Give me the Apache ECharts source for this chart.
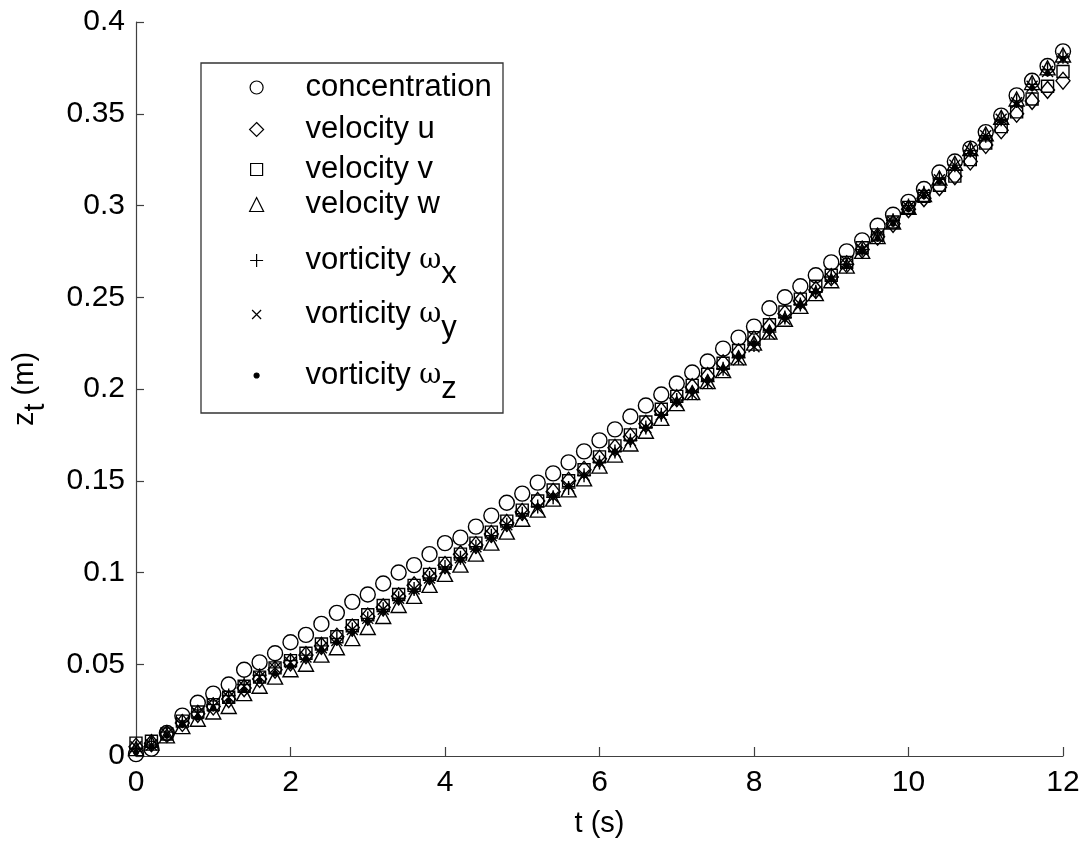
<!DOCTYPE html>
<html>
<head>
<meta charset="utf-8">
<script src="https://cdn.jsdelivr.net/npm/echarts@6/dist/echarts.min.js"></script>
<style>
html, body { margin: 0; padding: 0; background: #fff; }
#main { width: 1086px; height: 844px; }
</style>
</head>
<body>
<div id="main"></div>
<script>
// time (s)
var times = [
    0, 0.2, 0.4, 0.6, 0.8, 1, 1.2, 1.4, 1.6, 1.8,
    2, 2.2, 2.4, 2.6, 2.8, 3, 3.2, 3.4, 3.6, 3.8,
    4, 4.2, 4.4, 4.6, 4.8, 5, 5.2, 5.4, 5.6, 5.8,
    6, 6.2, 6.4, 6.6, 6.8, 7, 7.2, 7.4, 7.6, 7.8,
    8, 8.2, 8.4, 8.6, 8.8, 9, 9.2, 9.4, 9.6, 9.8,
    10, 10.2, 10.4, 10.6, 10.8, 11, 11.2, 11.4, 11.6, 11.8,
    12
];
// z_t (m) per quantity
var concentration = [
    0.001, 0.004, 0.0125, 0.022, 0.029, 0.034, 0.039, 0.047, 0.051, 0.056,
    0.062, 0.066, 0.072, 0.078, 0.084, 0.088, 0.094, 0.100, 0.104, 0.110,
    0.116, 0.119, 0.125, 0.131, 0.138, 0.143, 0.149, 0.154, 0.160, 0.166,
    0.172, 0.178, 0.185, 0.191, 0.197, 0.203, 0.209, 0.215, 0.222, 0.228,
    0.234, 0.244, 0.250, 0.256, 0.262, 0.269, 0.275, 0.281, 0.289, 0.295,
    0.302, 0.309, 0.318, 0.324, 0.331, 0.340, 0.349, 0.360, 0.368, 0.376,
    0.384
];
var velocityU = [
    0.005, 0.007, 0.012, 0.018, 0.023, 0.027, 0.031, 0.037, 0.042, 0.047,
    0.051, 0.055, 0.060, 0.065, 0.070, 0.076, 0.081, 0.087, 0.093, 0.098,
    0.104, 0.110, 0.115, 0.121, 0.127, 0.133, 0.139, 0.144, 0.150, 0.156,
    0.162, 0.168, 0.174, 0.181, 0.188, 0.195, 0.201, 0.207, 0.214, 0.220,
    0.227, 0.234, 0.241, 0.248, 0.254, 0.261, 0.268, 0.276, 0.283, 0.290,
    0.298, 0.304, 0.310, 0.316, 0.324, 0.333, 0.341, 0.350, 0.357, 0.363,
    0.368
];
var velocityV = [
    0.007, 0.008, 0.012, 0.019, 0.024, 0.028, 0.032, 0.038, 0.043, 0.048,
    0.052, 0.056, 0.061, 0.065, 0.071, 0.077, 0.082, 0.088, 0.093, 0.099,
    0.105, 0.110, 0.116, 0.122, 0.128, 0.134, 0.139, 0.145, 0.150, 0.156,
    0.163, 0.169, 0.175, 0.182, 0.189, 0.196, 0.202, 0.208, 0.214, 0.221,
    0.228, 0.235, 0.242, 0.249, 0.256, 0.262, 0.269, 0.277, 0.284, 0.291,
    0.299, 0.305, 0.311, 0.316, 0.325, 0.334, 0.343, 0.351, 0.358, 0.365,
    0.373
];
var velocityW = [
    0.004, 0.007, 0.011, 0.016, 0.020, 0.024, 0.027, 0.034, 0.038, 0.043,
    0.047, 0.050, 0.055, 0.059, 0.064, 0.070, 0.076, 0.082, 0.087, 0.093,
    0.099, 0.104, 0.110, 0.116, 0.122, 0.129, 0.134, 0.140, 0.145, 0.151,
    0.158, 0.164, 0.170, 0.177, 0.184, 0.192, 0.198, 0.204, 0.210, 0.217,
    0.225, 0.231, 0.238, 0.245, 0.252, 0.259, 0.267, 0.275, 0.283, 0.291,
    0.299, 0.306, 0.315, 0.323, 0.331, 0.339, 0.348, 0.358, 0.367, 0.375,
    0.382
];
var vorticityX = [
    0.004, 0.006, 0.013, 0.019, 0.024, 0.028, 0.033, 0.039, 0.044, 0.048,
    0.052, 0.055, 0.060, 0.064, 0.069, 0.075, 0.080, 0.086, 0.091, 0.097,
    0.103, 0.108, 0.114, 0.120, 0.126, 0.132, 0.136, 0.141, 0.146, 0.153,
    0.160, 0.166, 0.172, 0.179, 0.186, 0.194, 0.198, 0.204, 0.211, 0.217,
    0.224, 0.231, 0.239, 0.246, 0.253, 0.261, 0.268, 0.276, 0.284, 0.292,
    0.300, 0.307, 0.315, 0.322, 0.330, 0.338, 0.347, 0.357, 0.366, 0.374,
    0.381
];
var vorticityY = [
    0.005, 0.006, 0.012, 0.018, 0.023, 0.027, 0.032, 0.038, 0.043, 0.048,
    0.051, 0.054, 0.059, 0.063, 0.069, 0.075, 0.080, 0.086, 0.091, 0.097,
    0.102, 0.108, 0.114, 0.120, 0.126, 0.131, 0.135, 0.141, 0.147, 0.153,
    0.160, 0.166, 0.172, 0.179, 0.186, 0.193, 0.197, 0.203, 0.210, 0.216,
    0.223, 0.230, 0.238, 0.246, 0.253, 0.260, 0.268, 0.276, 0.283, 0.291,
    0.299, 0.306, 0.314, 0.322, 0.330, 0.338, 0.347, 0.356, 0.365, 0.373,
    0.380
];
var vorticityZ = [
    0.002, 0.005, 0.011, 0.017, 0.021, 0.026, 0.030, 0.036, 0.041, 0.045,
    0.049, 0.053, 0.058, 0.062, 0.068, 0.074, 0.079, 0.085, 0.090, 0.096,
    0.102, 0.107, 0.113, 0.119, 0.125, 0.131, 0.136, 0.142, 0.147, 0.153,
    0.160, 0.166, 0.172, 0.179, 0.186, 0.193, 0.199, 0.205, 0.211, 0.218,
    0.225, 0.232, 0.239, 0.246, 0.253, 0.260, 0.267, 0.275, 0.282, 0.290,
    0.298, 0.305, 0.313, 0.321, 0.329, 0.337, 0.346, 0.355, 0.364, 0.372,
    0.380
];
var xTicks = [0, 2, 4, 6, 8, 10, 12];
var yTicks = [0, 0.05, 0.1, 0.15, 0.2, 0.25, 0.3, 0.35, 0.4];

var FONT = 'Liberation Sans';
var INK = '#000';
var PLUS = 'path://M0,5L10,5M5,0L5,10';
var CROSS = 'path://M0,0L10,10M10,0L0,10';
var ICON_X = 256;   // centre of legend icons
var TEXT_X = 305;   // left edge of legend labels

// marker style + legend row for each quantity
var quantities = [
    {name: 'concentration', values: concentration, symbol: 'circle', size: 15, fill: 'rgba(0,0,0,0)', border: 1.4, legendSize: 13, legendTop: 72},
    {name: 'velocity u', values: velocityU, symbol: 'diamond', size: [14, 17], fill: 'rgba(0,0,0,0)', border: 1.4, legendSize: 14, legendTop: 114},
    {name: 'velocity v', values: velocityV, symbol: 'rect', size: 12, fill: 'rgba(0,0,0,0)', border: 1.4, legendSize: 12, legendTop: 154},
    {name: 'velocity w', values: velocityW, symbol: 'triangle', size: [15, 14], fill: 'rgba(0,0,0,0)', border: 1.4, legendSize: 14, legendTop: 189},
    {name: 'vorticity ωx', values: vorticityX, symbol: PLUS, size: 14, fill: 'rgba(0,0,0,0)', border: 1.4, legendSize: 13, legendTop: 245},
    {name: 'vorticity ωy', values: vorticityY, symbol: CROSS, size: 11, fill: 'rgba(0,0,0,0)', border: 1.4, legendSize: 9, legendTop: 299},
    {name: 'vorticity ωz', values: vorticityZ, symbol: 'circle', size: 6, fill: INK, border: 0, legendSize: 5, legendTop: 360}
];

function pairs(vals) {
    var out = [];
    for (var i = 0; i < times.length; i++) {
        out.push([times[i], vals[i]]);
    }
    return out;
}

function legendText(name) {
    var m = name.match(/^(.*)ω([xyz])$/);
    if (m) {
        return '{a|' + m[1] + '}{w|ω}{s|' + m[2] + '}';
    }
    return '{a|' + name + '}';
}

var myChart = echarts.init(document.getElementById('main'), null, {renderer: 'canvas'});

var series = [];
var legends = [];
for (var k = 0; k < quantities.length; k++) {
    var q = quantities[k];
    var gap = TEXT_X - (ICON_X + q.legendSize / 2) - 5;
    series.push({
        name: q.name,
        type: 'scatter',
        symbol: q.symbol,
        symbolSize: q.size,
        data: pairs(q.values),
        itemStyle: {color: q.fill, borderColor: INK, borderWidth: q.border, opacity: 1},
        emphasis: {disabled: true}
    });
    legends.push({
        data: [{name: q.name, icon: q.symbol}],
        orient: 'vertical',
        align: 'left',
        left: ICON_X - q.legendSize / 2,
        top: q.legendTop,
        padding: 0,
        itemWidth: q.legendSize,
        itemHeight: q.legendSize,
        selectedMode: false,
        itemStyle: {color: q.fill, borderColor: INK, borderWidth: 1.2},
        formatter: legendText,
        textStyle: {
            fontFamily: FONT,
            fontSize: 31,
            color: INK,
            rich: {
                a: {fontFamily: FONT, fontSize: 31, color: INK, padding: [0, 0, 0, gap]},
                w: {fontFamily: 'DejaVu Serif', fontSize: 27, color: INK},
                s: {fontFamily: FONT, fontSize: 31, color: INK, padding: [28, 0, 0, 0]}
            }
        }
    });
}

var axisColor = '#404040';

option = {
    animation: false,
    backgroundColor: '#fff',
    grid: {left: 136, right: 23, top: 22, bottom: 88, outerBoundsMode: 'none'},
    legend: legends,
    graphic: [{
        type: 'rect',
        shape: {x: 201, y: 63, width: 302, height: 350},
        style: {fill: 'none', stroke: '#333', lineWidth: 1.3},
        z: 10
    }],
    xAxis: {
        type: 'value',
        min: xTicks[0],
        max: xTicks[xTicks.length - 1],
        interval: xTicks[1] - xTicks[0],
        name: 't (s)',
        nameLocation: 'middle',
        nameGap: 53,
        nameTextStyle: {fontFamily: FONT, fontSize: 29, color: INK},
        axisLine: {show: true, lineStyle: {color: axisColor, width: 1.2}},
        axisTick: {show: true, inside: true, length: 9, lineStyle: {color: axisColor, width: 1.2}},
        axisLabel: {fontFamily: FONT, fontSize: 30, color: INK, margin: 12},
        splitLine: {show: false}
    },
    yAxis: {
        type: 'value',
        min: yTicks[0],
        max: yTicks[yTicks.length - 1],
        interval: yTicks[1] - yTicks[0],
        name: '{z|z}{s|t}{z| (m)}',
        nameLocation: 'middle',
        nameGap: 86,
        nameTextStyle: {
            fontFamily: FONT, fontSize: 29, color: INK,
            rich: {
                z: {fontFamily: FONT, fontSize: 29, color: INK},
                s: {fontFamily: FONT, fontSize: 29, color: INK, padding: [22, 0, 0, 0]}
            }
        },
        axisLine: {show: true, lineStyle: {color: axisColor, width: 1.2}},
        axisTick: {show: true, inside: true, length: 8, lineStyle: {color: axisColor, width: 1.2}},
        axisLabel: {fontFamily: FONT, fontSize: 30, color: INK, margin: 11},
        splitLine: {show: false}
    },
    series: series
};
myChart.setOption(option);
</script>
</body>
</html>
